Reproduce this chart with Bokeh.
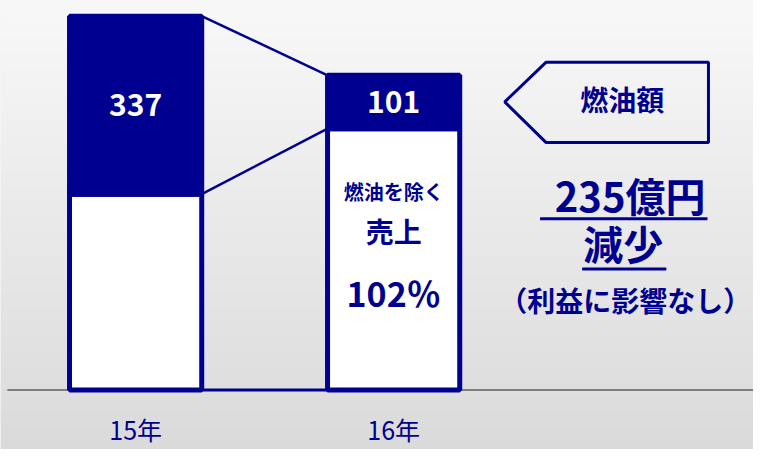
import numpy as np
from bokeh.plotting import figure
from bokeh.models import Range1d
from bokeh.core.properties import value
from bokeh.embed import file_html
from bokeh.resources import INLINE

# ---------------- data ----------------
years = ["15年", "16年"]
fuel = [337, 101]            # 燃油額 (navy segment)
other = [371, 495]           # 燃油を除く売上 (white segment, as drawn)
fuel_labels = ["337", "101"]
inner_lines = ["燃油を除く", "売上", "102％"]
callout_label = "燃油額"
reduction_lines = ["235億円", "減少"]
note = "（利益に影響なし）"

# ---------------- layout helpers ----------------
NAVY = "#000090"
FONT = value("Noto Sans CJK JP")
W, H = 753, 449
RW, RH = 769, 465          # reference canvas the layout is described in
X0, PXU = 138.0, 263.5
Y0, PYU = 403.5, 0.547


def sx(px):
    return (px - X0) / PXU


def sy(py):
    return (Y0 - py) / PYU


p = figure(width=W, height=H,
           x_range=Range1d(sx(0), sx(RW)), y_range=Range1d(sy(RH), sy(0)),
           output_backend="svg", toolbar_location=None, min_border=0)
p.xaxis.visible = False
p.yaxis.visible = False
p.xgrid.visible = False
p.ygrid.visible = False
p.outline_line_color = None
p.background_fill_color = "#eeeeee"
p.border_fill_color = "#eeeeee"

# background vertical gradient
rows = H
img = np.zeros((rows, 1), dtype=np.uint32)
view = img.view(dtype=np.uint8).reshape((rows, 1, 4))
for r in range(rows):
    ypix = RH * (1 - (r + 0.5) / rows)
    c = int(round(248 - 30 * ypix / RH))
    view[r, 0, 0] = c
    view[r, 0, 1] = c
    view[r, 0, 2] = c
    view[r, 0, 3] = 255
p.image_rgba(image=[img], x=sx(0), y=sy(RH), dw=sx(RW) - sx(0), dh=sy(0) - sy(RH))

# baseline
p.segment(x0=[sx(7)], y0=[0], x1=[sx(RW)], y1=[0], line_color="#7f7f7f", line_width=2)

xs = list(range(len(years)))
bw = 135 / PXU
totals = [a + b for a, b in zip(other, fuel)]

# connectors between bars
levels = [totals, other, [0, 0]]
for lv, lw in zip(levels, [2.5, 2.5, 3]):
    p.segment(x0=[xs[0] + bw / 2], y0=[lv[0]], x1=[xs[1] - bw / 2], y1=[lv[1]],
              line_color=NAVY, line_width=lw)

# stacked bars
p.vbar(x=xs, bottom=0, top=other, width=bw, fill_color="white",
       line_color=NAVY, line_width=5)
p.vbar(x=xs, bottom=other, top=totals, width=bw, fill_color=NAVY,
       line_color=NAVY, line_width=5)

# fuel labels
p.text(x=xs, y=[o + f / 2 for o, f in zip(other, fuel)], text=fuel_labels,
       text_color="white", text_font=FONT, text_font_style="bold",
       text_font_size="30px", text_align="center", text_baseline="middle")

# inner texts in 16 bar
for t, ypx, fs in zip(inner_lines, [198, 239, 302], ["20px", "28px", "34px"]):
    p.text(x=[xs[1]], y=[sy(ypx)], text=[t], text_color=NAVY, text_font=FONT,
           text_font_style="bold", text_font_size=fs, text_align="center",
           text_baseline="middle")

# category labels
p.text(x=xs, y=[sy(444)] * 2, text=years, text_color=NAVY, text_font=FONT,
       text_font_size="25px", text_align="center", text_baseline="middle")

# callout arrow box
cx = [515, 557, 723, 723, 557]
cy = [105, 64, 64, 147, 147]
p.patch(x=[sx(v) for v in cx], y=[sy(v) for v in cy], fill_alpha=0,
        line_color=NAVY, line_width=3)
p.text(x=[sx(635)], y=[sy(102)], text=[callout_label], text_color=NAVY,
       text_font=FONT, text_font_style="bold", text_font_size="28px",
       text_align="center", text_baseline="middle")

# reduction text with underline
p.text(x=[sx(643)], y=[sy(201)], text=[reduction_lines[0]], text_color=NAVY,
       text_font=FONT, text_font_style="bold", text_font_size="40px",
       text_align="center", text_baseline="middle")
p.text(x=[sx(636)], y=[sy(251)], text=[reduction_lines[1]], text_color=NAVY,
       text_font=FONT, text_font_style="bold", text_font_size="40px",
       text_align="center", text_baseline="middle")
p.segment(x0=[sx(551), sx(594)], y0=[sy(226), sy(278)],
          x1=[sx(722), sx(680)], y1=[sy(226), sy(278)],
          line_color=NAVY, line_width=3)
p.text(x=[sx(638)], y=[sy(310)], text=[note], text_color=NAVY,
       text_font=FONT, text_font_style="bold", text_font_size="28px",
       text_align="center", text_baseline="middle")

open("out.html", "w").write(file_html(p, INLINE))
